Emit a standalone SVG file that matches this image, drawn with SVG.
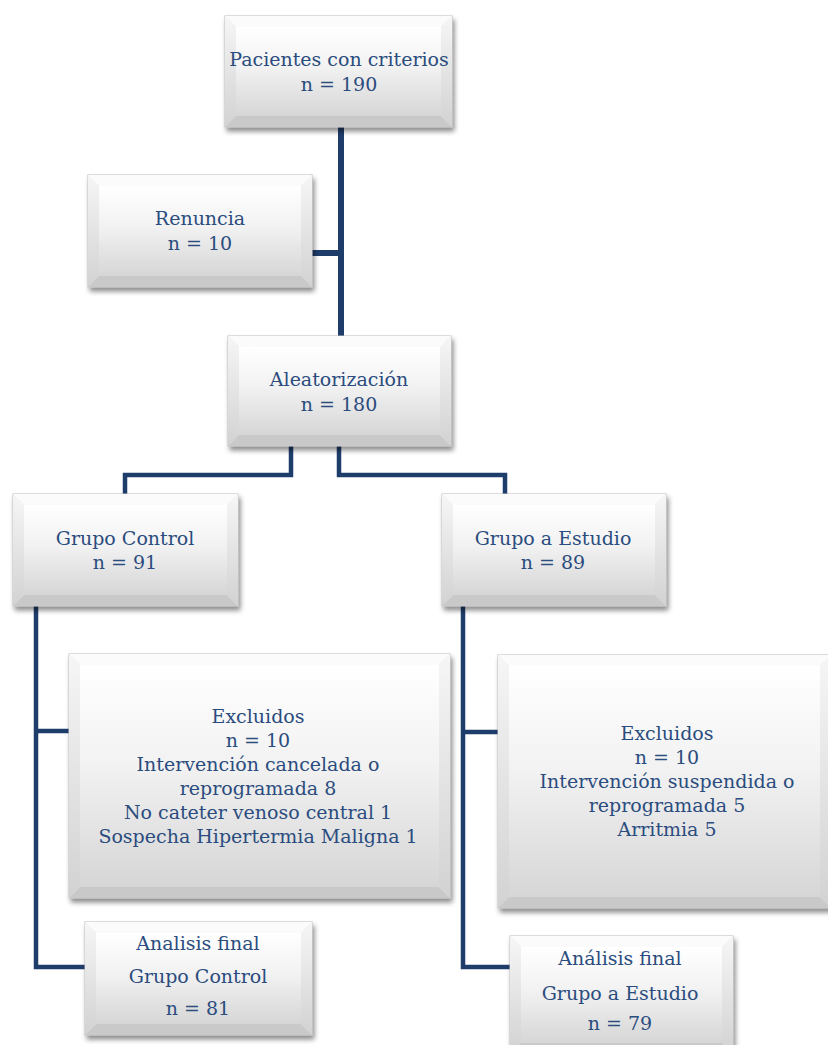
<svg xmlns="http://www.w3.org/2000/svg" width="828" height="1045" viewBox="0 0 828 1045">
<defs>
<linearGradient id="face" x1="0" y1="0" x2="0" y2="1">
<stop offset="0" stop-color="#ffffff"/>
<stop offset="0.45" stop-color="#f2f2f2"/>
<stop offset="1" stop-color="#d6d6d6"/>
</linearGradient>
<linearGradient id="side" x1="0" y1="0" x2="0" y2="1">
<stop offset="0" stop-color="#f6f6f6"/>
<stop offset="1" stop-color="#d2d2d2"/>
</linearGradient>
<filter id="sh" x="-10%" y="-10%" width="125%" height="130%">
<feDropShadow dx="2" dy="4" stdDeviation="2.5" flood-color="#000" flood-opacity="0.45"/>
</filter>
</defs>
<style>
.outer{fill:#e4e4e4;stroke:#bdbdbd;stroke-width:1;filter:url(#sh)}
.top{fill:#fbfbfb}
.left{fill:url(#side)}
.right{fill:url(#side)}
.bot{fill:#c9c9c9}
.face{fill:url(#face)}
.t{font-family:"DejaVu Serif","Liberation Serif",serif;font-size:19px;fill:#2B4C7E;text-anchor:middle}
.c{fill:none;stroke:#1F3D6B;stroke-linejoin:miter;stroke-linecap:butt}
.w6{stroke-width:6}
.w5{stroke-width:4.5}
</style>

<g id="connectors">
<polyline class="c w6" points="341,127 341,336"/>
<polyline class="c w6" points="312,253 341,253"/>
<polyline class="c w5" points="291,446 291,475 125,475 125,494"/>
<polyline class="c w5" points="339,446 339,475 505,475 505,494"/>
<polyline class="c w5" points="36,606 36,967 85,967"/>
<polyline class="c w5" points="36,731 69,731"/>
<polyline class="c w5" points="463,606 463,967 510,967"/>
<polyline class="c w5" points="463,732 498,732"/>
</g>

<g id="pacientes">
<rect class="outer" x="225" y="16" width="227" height="111"/>
<polygon class="top" points="225,16 452,16 441,27 236,27"/>
<polygon class="left" points="225,16 236,27 236,116 225,127"/>
<polygon class="right" points="452,16 452,127 441,116 441,27"/>
<polygon class="bot" points="225,127 452,127 441,116 236,116"/>
<rect class="face" x="236" y="27" width="205" height="89"/>
<text class="t" x="339" y="66">Pacientes con criterios</text>
<text class="t" x="339" y="91">n = 190</text>
</g>

<g id="renuncia">
<rect class="outer" x="88" y="175" width="224" height="112"/>
<polygon class="top" points="88,175 312,175 301,186 99,186"/>
<polygon class="left" points="88,175 99,186 99,276 88,287"/>
<polygon class="right" points="312,175 312,287 301,276 301,186"/>
<polygon class="bot" points="88,287 312,287 301,276 99,276"/>
<rect class="face" x="99" y="186" width="202" height="90"/>
<text class="t" x="200" y="225">Renuncia</text>
<text class="t" x="200" y="250">n = 10</text>
</g>

<g id="aleatorizacion">
<rect class="outer" x="228" y="336" width="223" height="110"/>
<polygon class="top" points="228,336 451,336 440,347 239,347"/>
<polygon class="left" points="228,336 239,347 239,435 228,446"/>
<polygon class="right" points="451,336 451,446 440,435 440,347"/>
<polygon class="bot" points="228,446 451,446 440,435 239,435"/>
<rect class="face" x="239" y="347" width="201" height="88"/>
<text class="t" x="339" y="386">Aleatorización</text>
<text class="t" x="339" y="411">n = 180</text>
</g>

<g id="grupo-control">
<rect class="outer" x="13" y="494" width="225" height="112"/>
<polygon class="top" points="13,494 238,494 227,505 24,505"/>
<polygon class="left" points="13,494 24,505 24,595 13,606"/>
<polygon class="right" points="238,494 238,606 227,595 227,505"/>
<polygon class="bot" points="13,606 238,606 227,595 24,595"/>
<rect class="face" x="24" y="505" width="203" height="90"/>
<text class="t" x="125" y="545">Grupo Control</text>
<text class="t" x="125" y="569">n = 91</text>
</g>

<g id="grupo-estudio">
<rect class="outer" x="442" y="494" width="224" height="112"/>
<polygon class="top" points="442,494 666,494 655,505 453,505"/>
<polygon class="left" points="442,494 453,505 453,595 442,606"/>
<polygon class="right" points="666,494 666,606 655,595 655,505"/>
<polygon class="bot" points="442,606 666,606 655,595 453,595"/>
<rect class="face" x="453" y="505" width="202" height="90"/>
<text class="t" x="553" y="545">Grupo a Estudio</text>
<text class="t" x="553" y="569">n = 89</text>
</g>

<g id="excluidos-control">
<rect class="outer" x="69" y="654" width="381" height="244"/>
<polygon class="top" points="69,654 450,654 439,665 80,665"/>
<polygon class="left" points="69,654 80,665 80,887 69,898"/>
<polygon class="right" points="450,654 450,898 439,887 439,665"/>
<polygon class="bot" points="69,898 450,898 439,887 80,887"/>
<rect class="face" x="80" y="665" width="359" height="222"/>
<text class="t" x="258" y="723">Excluidos</text>
<text class="t" x="258" y="747">n = 10</text>
<text class="t" x="258" y="771">Intervención cancelada o</text>
<text class="t" x="258" y="795">reprogramada 8</text>
<text class="t" x="258" y="819">No cateter venoso central 1</text>
<text class="t" x="258" y="843">Sospecha Hipertermia Maligna 1</text>
</g>

<g id="excluidos-estudio">
<rect class="outer" x="498" y="655" width="333" height="253"/>
<polygon class="top" points="498,655 831,655 820,666 509,666"/>
<polygon class="left" points="498,655 509,666 509,897 498,908"/>
<polygon class="right" points="831,655 831,908 820,897 820,666"/>
<polygon class="bot" points="498,908 831,908 820,897 509,897"/>
<rect class="face" x="509" y="666" width="311" height="231"/>
<text class="t" x="667" y="740">Excluidos</text>
<text class="t" x="667" y="764">n = 10</text>
<text class="t" x="667" y="788">Intervención suspendida o</text>
<text class="t" x="667" y="812">reprogramada 5</text>
<text class="t" x="667" y="836">Arritmia 5</text>
</g>

<g id="analisis-control">
<rect class="outer" x="85" y="922" width="227" height="113"/>
<polygon class="top" points="85,922 312,922 301,933 96,933"/>
<polygon class="left" points="85,922 96,933 96,1024 85,1035"/>
<polygon class="right" points="312,922 312,1035 301,1024 301,933"/>
<polygon class="bot" points="85,1035 312,1035 301,1024 96,1024"/>
<rect class="face" x="96" y="933" width="205" height="91"/>
<text class="t" x="198" y="950">Analisis final</text>
<text class="t" x="198" y="983">Grupo Control</text>
<text class="t" x="198" y="1015">n = 81</text>
</g>

<g id="analisis-estudio">
<rect class="outer" x="510" y="936" width="223" height="118"/>
<polygon class="top" points="510,936 733,936 722,947 521,947"/>
<polygon class="left" points="510,936 521,947 521,1043 510,1054"/>
<polygon class="right" points="733,936 733,1054 722,1043 722,947"/>
<polygon class="bot" points="510,1054 733,1054 722,1043 521,1043"/>
<rect class="face" x="521" y="947" width="201" height="96"/>
<text class="t" x="620" y="965">Análisis final</text>
<text class="t" x="620" y="1000">Grupo a Estudio</text>
<text class="t" x="620" y="1030">n = 79</text>
</g>
</svg>
